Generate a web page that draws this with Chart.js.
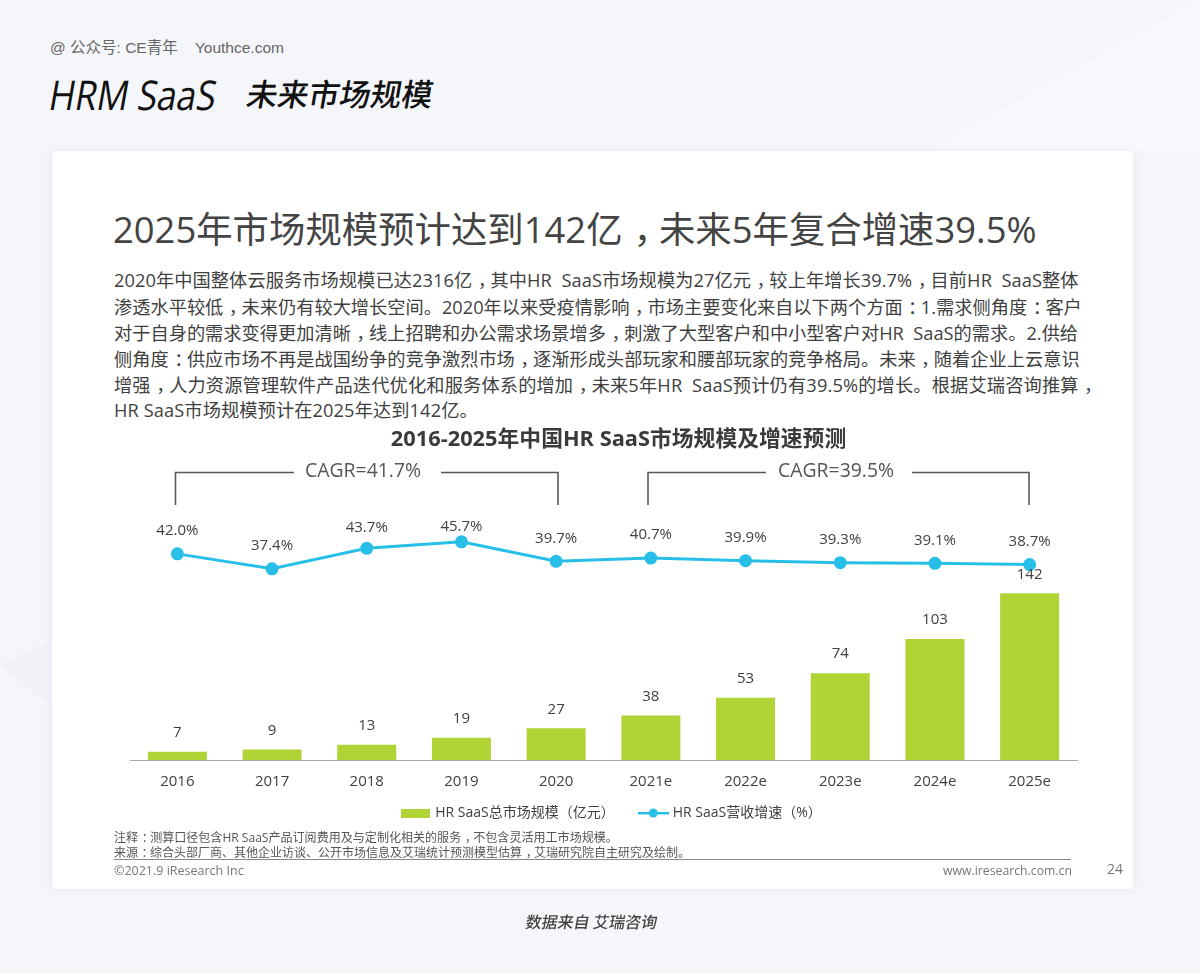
<!DOCTYPE html>
<html lang="zh"><head><meta charset="utf-8">
<script src="https://cdn.jsdelivr.net/npm/chart.js@4/dist/chart.umd.min.js"></script>
<style>
html,body{margin:0;padding:0;width:1200px;height:973px;overflow:hidden;background:#f5f6fa;font-family:"Open Sans","Noto Sans CJK SC",sans-serif}
.t{position:absolute;white-space:nowrap;line-height:1}
#card{position:absolute;left:52px;top:151px;width:1081px;height:738px;background:#fff;box-shadow:0 0 8px rgba(190,195,215,.25)}
#bg{position:absolute;left:0;top:0}
#wrap{position:absolute;left:0;top:425px;width:1200px;height:426px}
.body{left:114px;font-size:18.23px;color:#3f3f3f}
.p{display:inline-block;transform:translateX(.3em);font-family:"Noto Sans CJK SC"}
</style></head><body>
<svg id="bg" width="1200" height="973"><polygon points="930,150 1200,0 1200,150" fill="#f8f9fc"/><polygon points="0,665 50,640 50,705" fill="#f0f2f8"/></svg>
<div class="t" style="left:50px;top:40px;font-size:15.5px;color:#666;font-family:'Liberation Sans','Noto Sans CJK SC'">@ 公众号: CE青年 &nbsp;&nbsp; Youthce.com</div>
<div class="t" style="left:50px;top:74px;font-size:31px;font-weight:500;color:#111;transform:skewX(-10deg);font-family:'Noto Sans CJK SC'"><span style="display:inline-block;width:197px;font-family:'Open Sans';font-size:41px;font-weight:500;transform:scaleX(.86);transform-origin:left;vertical-align:-4px">HRM SaaS</span>未来市场规模</div>
<div id="card"></div>
<div class="t" style="left:113px;top:209px;font-size:36.4px;color:#444">2025年市场规模预计达到142亿，未来5年复合增速39.5%</div>
<div class="t body" style="top:270px;letter-spacing:.07px">2020年中国整体云服务市场规模已达2316亿，其中HR&nbsp; SaaS市场规模为27亿元，较上年增长39.7%，目前HR&nbsp; SaaS整体</div>
<div class="t body" style="top:297px">渗透水平较低，未来仍有较大增长空间。2020年以来受疫情影响，市场主要变化来自以下两个方面：1.需求侧角度：客户</div>
<div class="t body" style="top:323px">对于自身的需求变得更加清晰，线上招聘和办公需求场景增多，刺激了大型客户和中小型客户对HR&nbsp; SaaS的需求。2.供给</div>
<div class="t body" style="top:349px">侧角度：供应市场不再是战国纷争的竞争激烈市场，逐渐形成头部玩家和腰部玩家的竞争格局。未来，随着企业上云意识</div>
<div class="t body" style="top:375px;letter-spacing:.15px">增强，人力资源管理软件产品迭代优化和服务体系的增加，未来5年HR&nbsp; SaaS预计仍有39.5%的增长。根据艾瑞咨询推算，</div>
<div class="t body" style="top:401px;letter-spacing:.1px">HR SaaS市场规模预计在2025年达到142亿。</div>
<div id="wrap"><canvas id="c"></canvas></div>
<svg style="position:absolute;left:0;top:0;pointer-events:none" width="1200" height="973" fill="none" stroke="#595959" stroke-width="1.6">
<path d="M175.5 505V472.5H294M441 472.5H558V505"/><path d="M648 505V472.5H766M912 472.5H1029V505"/></svg>
<div class="t" style="left:305px;top:460px;font-size:19.4px;color:#555">CAGR=41.7%</div>
<div class="t" style="left:778px;top:460px;font-size:19.4px;color:#555">CAGR=39.5%</div>
<div class="t" style="left:114px;top:831px;font-size:12.05px;color:#555">注释：测算口径包含HR SaaS产品订阅费用及与定制化相关的服务，不包含灵活用工市场规模。</div>
<div class="t" style="left:114px;top:846px;font-size:12px;color:#555">来源：综合头部厂商、其他企业访谈、公开市场信息及艾瑞统计预测模型估算，艾瑞研究院自主研究及绘制。</div>
<div style="position:absolute;left:114px;top:859px;width:957px;height:1px;background:#888"></div>
<div class="t" style="left:114px;top:865px;font-size:12.5px;color:#777">©2021.9 iResearch Inc</div>
<div class="t" style="right:128px;top:865px;font-size:12.25px;color:#777">www.iresearch.com.cn</div>
<div class="t" style="left:1107px;top:862px;font-size:14px;color:#777">24</div>
<div class="t" style="left:526px;top:913px;font-size:16px;font-weight:500;color:#444;transform:skewX(-10deg);font-family:'Noto Sans CJK SC'">数据来自 艾瑞咨询</div>
<script>
const categories = ['2016','2017','2018','2019','2020','2021e','2022e','2023e','2024e','2025e'];
const marketSize = [7,9,13,19,27,38,53,74,103,142];
const growthRate = [42.0,37.4,43.7,45.7,39.7,40.7,39.9,39.3,39.1,38.7];
const barName = 'HR SaaS总市场规模（亿元）';
const lineName = 'HR SaaS营收增速（%）';
const chartTitle = '2016-2025年中国HR SaaS市场规模及增速预测';
const BAR='#b0d335', LINE='#27bfe8', FONT='"Open Sans","Noto Sans CJK SC",sans-serif';
document.querySelectorAll('.t').forEach(el=>{el.innerHTML=el.innerHTML.replace(/[，：]/g,m=>'<span class="p">'+m+'</span>');});
function swatch(w,h,draw){const c=document.createElement('canvas');c.width=w;c.height=h;draw(c.getContext('2d'));return c;}
const barSwatch=swatch(29,9,g=>{g.fillStyle=BAR;g.fillRect(0,0,29,9);});
const lineSwatch=swatch(31,10,g=>{g.fillStyle=LINE;g.fillRect(0,4,31,2.4);g.beginPath();g.arc(15.5,5,4.5,0,7);g.fill();});
const labelsPlugin={id:'vals',afterDatasetsDraw(ch){
  const g=ch.ctx;g.save();g.textAlign='center';g.textBaseline='middle';g.fillStyle='#404040';g.font='15px '+FONT;
  ch.getDatasetMeta(0).data.forEach((e,i)=>{const lift=i===3?15:i===2?21:23;g.fillText(growthRate[i].toFixed(1)+'%',e.x,e.y-lift);});
  ch.getDatasetMeta(1).data.forEach((e,i)=>g.fillText(String(marketSize[i]),e.x,e.y-19));
  g.restore();}};
const shiftPlugin={id:'shift',afterLayout(ch){ch.titleBlock.left+=15;ch.titleBlock.right+=15;ch.legend.left+=9;ch.legend.right+=9;ch.legend.top-=21;ch.legend.bottom-=21;}};
new Chart(document.getElementById('c'),{
  data:{labels:categories,datasets:[
    {type:'line',label:lineName,data:growthRate,yAxisID:'y1',borderColor:LINE,backgroundColor:LINE,borderWidth:3,pointRadius:5,pointHoverRadius:5,tension:0,order:0,pointStyle:'circle'},
    {type:'bar',label:barName,data:marketSize,yAxisID:'y',backgroundColor:BAR,categoryPercentage:1,barPercentage:0.623,order:1}
  ]},
  options:{responsive:true,maintainAspectRatio:false,animation:false,
    layout:{padding:{left:130,right:123,top:0,bottom:0}},
    plugins:{
      title:{display:true,text:chartTitle,color:'#3a3a3a',font:{family:FONT,size:21.8,weight:'bold'},padding:{top:2,bottom:8}},
      tooltip:{enabled:false},
      legend:{position:'bottom',labels:{usePointStyle:true,pointStyleWidth:25,color:'#404040',font:{family:FONT,size:14},padding:26,boxHeight:13,
        generateLabels(){return [
          {text:barName,pointStyle:barSwatch,fontColor:'#404040',lineWidth:0,strokeStyle:'transparent',fillStyle:BAR,datasetIndex:1},
          {text:lineName,pointStyle:lineSwatch,fontColor:'#404040',lineWidth:0,strokeStyle:'transparent',fillStyle:LINE,datasetIndex:0}
        ];}}}
    },
    scales:{
      x:{grid:{display:false,drawTicks:false},border:{display:true,color:'#a6a6a6',width:1},ticks:{color:'#404040',font:{family:FONT,size:15},padding:13,maxRotation:0},afterFit(s){s.height=41;}},
      y:{display:false,min:0,max:254.6},
      y1:{display:false,min:-21.5,max:70.56}
    }}
  ,plugins:[labelsPlugin,shiftPlugin]});
</script>
</body></html>
